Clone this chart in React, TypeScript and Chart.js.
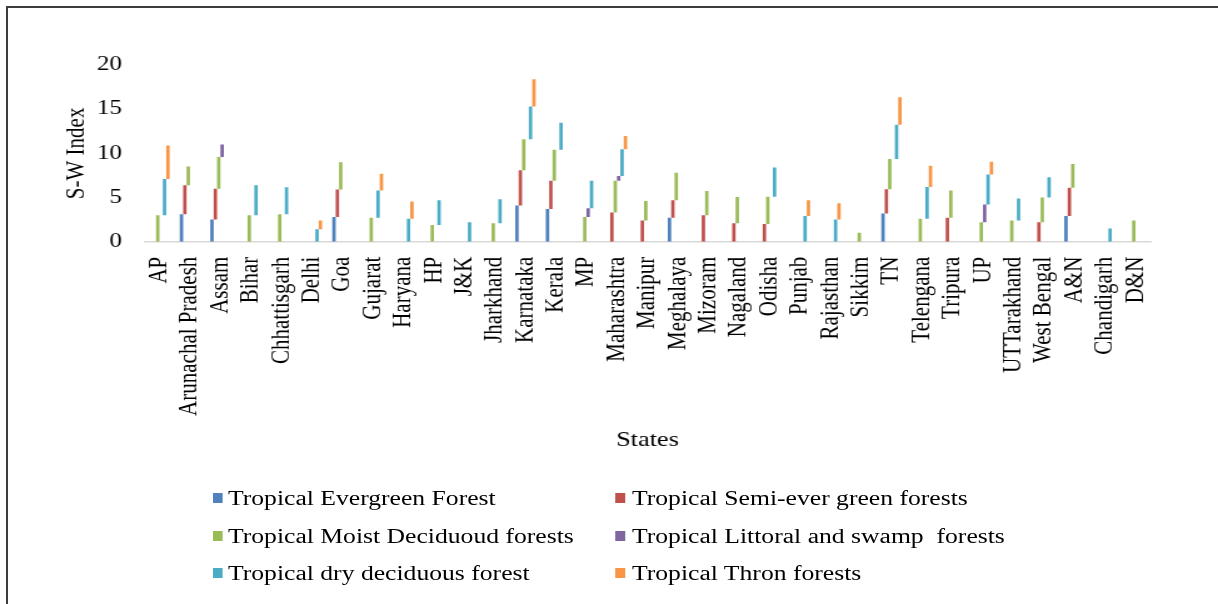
import React, { useEffect, useRef } from "react";
import { Chart, registerables } from "chart.js";

Chart.register(...registerables);

const states = [
  "AP", "Arunachal Pradesh", "Assam", "Bihar", "Chhattisgarh", "Delhi", "Goa", "Gujarat",
  "Haryana", "HP", "J&K", "Jharkhand", "Karnataka", "Kerala", "MP", "Maharashtra",
  "Manipur", "Meghalaya", "Mizoram", "Nagaland", "Odisha", "Punjab", "Rajasthan", "Sikkim",
  "TN", "Telengana", "Tripura", "UP", "UTTarakhand", "West Bengal", "A&N", "Chandigarh", "D&N",
];

const evergreen = [0, 3.1, 2.5, 0, 0, 0, 2.8, 0, 0, 0, 0, 0, 4.1, 3.7, 0, 0, 0, 2.7, 0, 0, 0, 0, 0, 0, 3.2, 0, 0, 0, 0, 0, 2.9, 0, 0];
const semiEvergreen = [0, 3.3, 3.5, 0, 0, 0, 3.1, 0, 0, 0, 0, 0, 4.0, 3.2, 0, 3.3, 2.4, 2.0, 3.0, 2.1, 2.0, 0, 0, 0, 2.75, 0, 2.7, 0, 0, 2.2, 3.2, 0, 0];
const moistDeciduous = [3.0, 2.1, 3.6, 3.0, 3.1, 0, 3.1, 2.7, 0, 1.9, 0, 2.1, 3.5, 3.5, 2.8, 3.6, 2.2, 3.1, 2.75, 2.95, 3.1, 0, 0, 1.0, 3.4, 2.6, 3.1, 2.2, 2.4, 2.8, 2.7, 0, 2.4];
const littoralSwamp = [0, 0, 1.4, 0, 0, 0, 0, 0, 0, 0, 0, 0, 0, 0, 1.0, 0.55, 0, 0, 0, 0, 0, 0, 0, 0, 0, 0, 0, 2.0, 0, 0, 0, 0, 0];
const dryDeciduous = [4.1, 0, 0, 3.4, 3.05, 1.4, 0, 3.1, 2.6, 2.8, 2.2, 2.7, 3.7, 3.05, 3.1, 3.0, 0, 0, 0, 0, 3.3, 2.9, 2.5, 0, 3.9, 3.6, 0, 3.4, 2.5, 2.3, 0, 1.5, 0];
const thorn = [3.8, 0, 0, 0, 0, 1.0, 0, 1.9, 1.95, 0, 0, 0, 3.1, 0, 0, 1.5, 0, 0, 0, 0, 0, 1.8, 1.85, 0, 3.1, 2.4, 0, 1.45, 0, 0, 0, 0, 0];

const seriesNames = [
  "Tropical Evergreen Forest",
  "Tropical Semi-ever green forests",
  "Tropical Moist Deciduoud forests",
  "Tropical Littoral and swamp  forests",
  "Tropical dry deciduous forest",
  "Tropical Thron forests",
];
const seriesValues = [evergreen, semiEvergreen, moistDeciduous, littoralSwamp, dryDeciduous, thorn];
const seriesColors = ["#4F81BD", "#C0504D", "#9BBB59", "#8064A2", "#4BACC6", "#F79646"];

const yTicks = [0, 5, 10, 15, 20];

const FONT = "'Liberation Serif', 'Times New Roman', serif";
const INNER_W = 974;
const SCALE_X = 1218 / INNER_W;

export default function App() {
  const ref = useRef<HTMLCanvasElement | null>(null);

  useEffect(() => {
    if (!ref.current) return;
    document.body.style.overflow = "hidden";
    const base = states.map(() => 0);
    const datasets = seriesValues.map((vals, si) => {
      const data = vals.map((v, i) => {
        const start = base[i];
        base[i] += v;
        return v > 0 ? [start, start + v] : null;
      });
      return {
        label: seriesNames[si],
        data,
        backgroundColor: seriesColors[si],
        borderWidth: 0,
        barPercentage: 1.0,
        categoryPercentage: 0.667,
      };
    });

    const chart = new Chart(ref.current, {
      type: "bar",
      data: { labels: states, datasets: datasets as any },
      options: {
        animation: false,
        responsive: false,
        devicePixelRatio: 1,
        layout: { padding: { left: 49, right: 53.8, top: 65, bottom: 151.4 } },
        plugins: { legend: { display: false }, tooltip: { enabled: false } },
        scales: {
          x: {
            grid: { display: false, drawTicks: false },
            border: { display: true, color: "#d9d9d9", width: 1.5 },
            ticks: {
              autoSkip: false,
              minRotation: 90,
              maxRotation: 90,
              padding: 15,
              color: "#000",
              font: { family: FONT, size: 21 },
            },
            title: {
              display: true,
              text: "States",
              color: "#000",
              padding: 0,
              font: { family: FONT, size: 21 },
            },
            afterFit: (scale: any) => {
              scale.height = 210.9;
            },
          },
          y: {
            min: 0,
            max: 20,
            grid: { display: false, drawTicks: false },
            border: { display: false },
            afterBuildTicks: (scale: any) => {
              scale.ticks = yTicks.map((v) => ({ value: v }));
            },
            ticks: {
              padding: 17.7,
              color: "#000",
              font: { family: FONT, size: 20 },
            },
            title: {
              display: true,
              text: "S-W Index",
              color: "#000",
              padding: 0,
              font: { family: FONT, size: 21 },
            },
            afterFit: (scale: any) => {
              scale.width = 66.3;
            },
          },
        },
      },
    });
    return () => chart.destroy();
  }, []);

  const legendCols = [
    { box: 170.3, text: 182.3 },
    { box: 491.8, text: 505.4 },
  ];
  const legendRows = [498, 536, 573];

  return (
    <div style={{ position: "absolute", left: 0, top: 0, width: 1218, height: 604, overflow: "hidden", background: "#fff" }}>
      <div
        style={{
          position: "absolute",
          left: 6,
          top: 6,
          width: 1210,
          height: 596,
          borderTop: "2px solid #3c3c3c",
          borderLeft: "2px solid #3c3c3c",
          boxSizing: "content-box",
        }}
      />
      <div
        style={{
          position: "absolute",
          left: 0,
          top: 0,
          width: INNER_W,
          height: 604,
          transform: `scaleX(${SCALE_X})`,
          transformOrigin: "0 0",
        }}
      >
        <canvas ref={ref} width={INNER_W} height={604} style={{ display: "block" }} />
        {seriesNames.map((name, i) => {
          const col = legendCols[i % 2];
          const cy = legendRows[Math.floor(i / 2)];
          return (
            <React.Fragment key={name}>
              <div
                style={{
                  position: "absolute",
                  left: col.box,
                  top: cy - 5,
                  width: 8,
                  height: 10,
                  background: seriesColors[i],
                }}
              />
              <div
                style={{
                  position: "absolute",
                  left: col.text,
                  top: cy - 12,
                  height: 24,
                  lineHeight: "24px",
                  fontFamily: FONT,
                  fontSize: 20.5,
                  color: "#000",
                  whiteSpace: "pre",
                }}
              >
                {name}
              </div>
            </React.Fragment>
          );
        })}
      </div>
    </div>
  );
}
